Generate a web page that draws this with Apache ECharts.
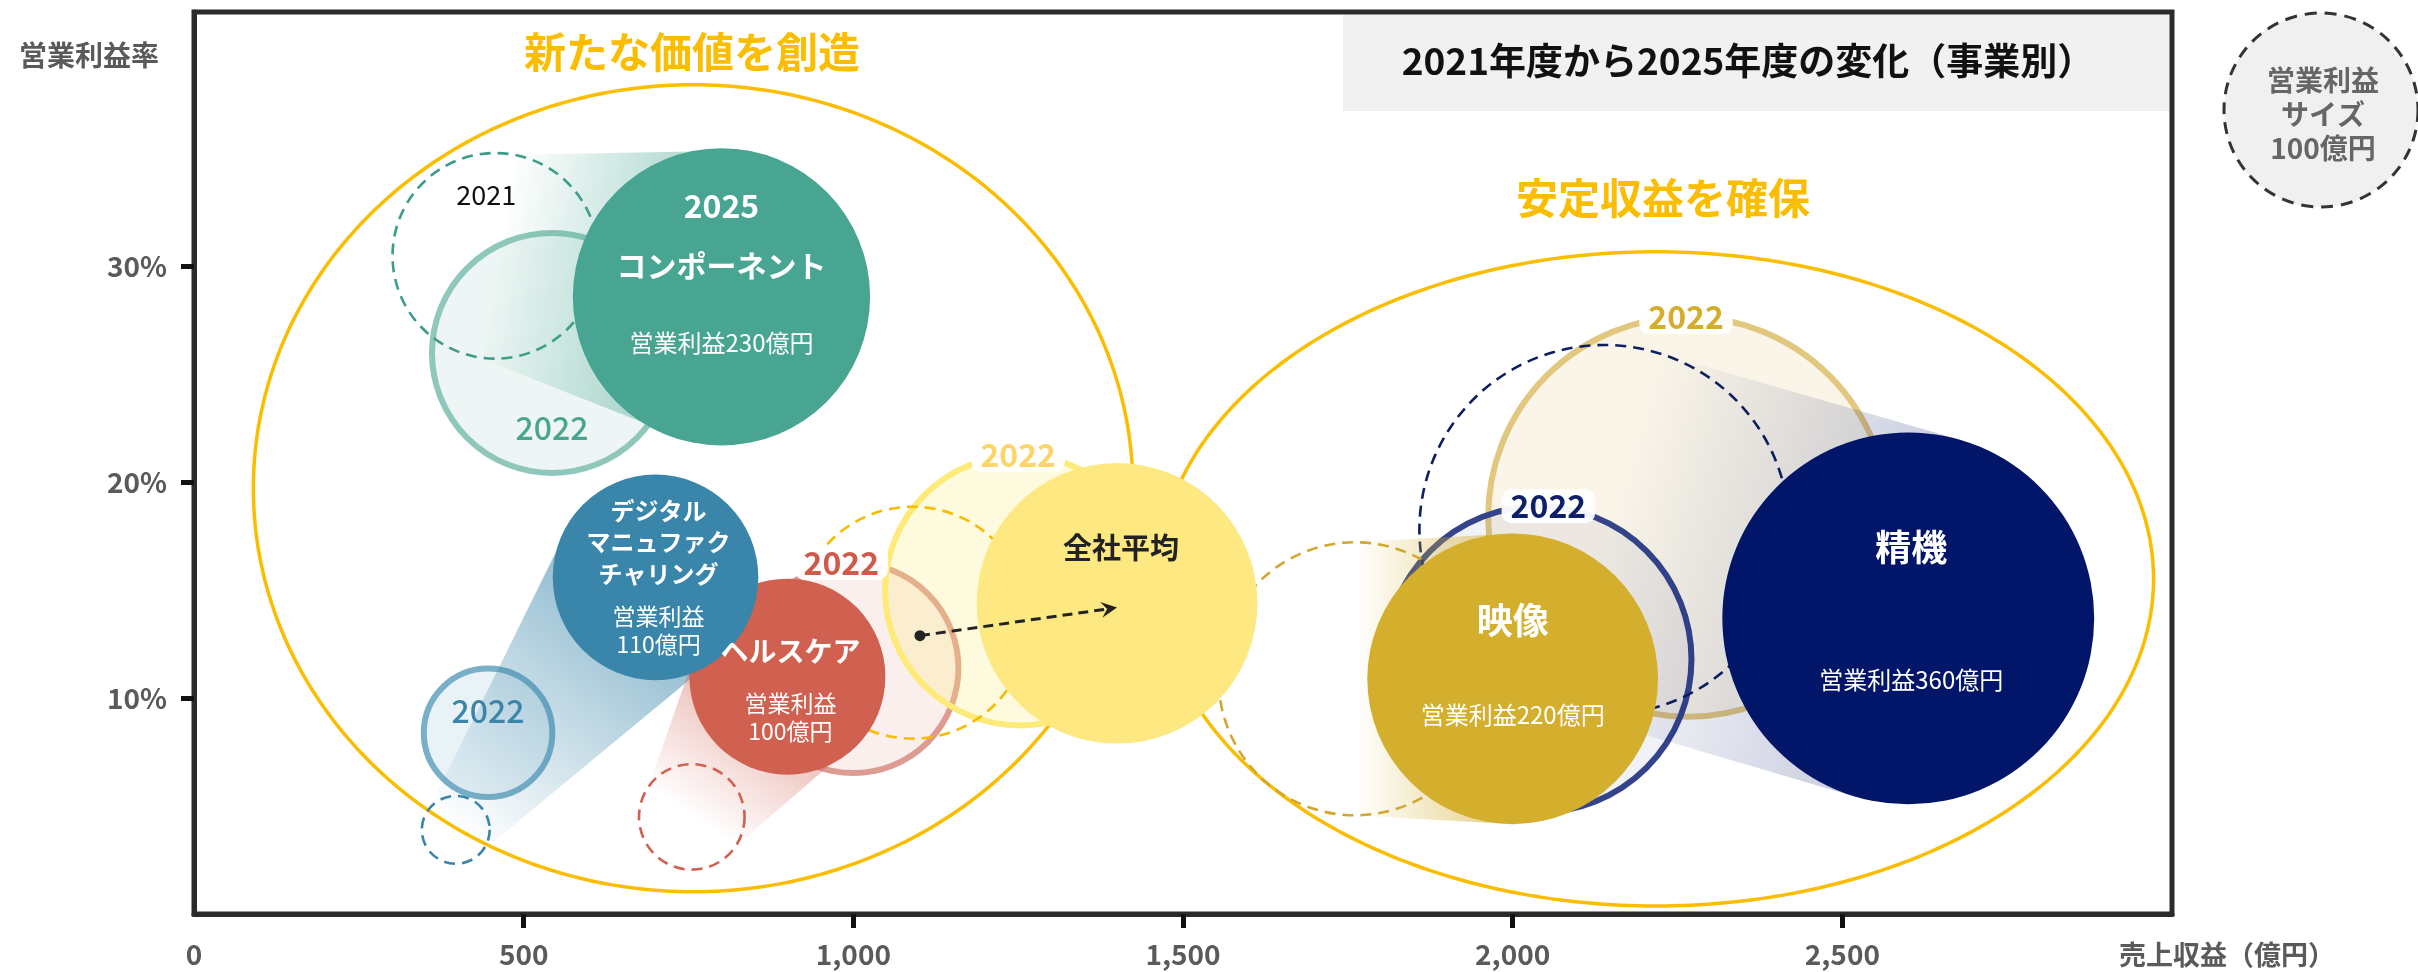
<!DOCTYPE html>
<html><head><meta charset="utf-8">
<script src="https://cdn.jsdelivr.net/npm/echarts@6/dist/echarts.min.js"></script>
<style>html,body{margin:0;padding:0;background:#fff}#c{width:2418px;height:972px}</style>
</head><body><div id="c"></div>
<script>
// ---- data ----
const businesses = ['コンポーネント', 'デジタルマニュファクチャリング', 'ヘルスケア', '全社平均', '映像', '精機'];
const nameLabels = ['コンポーネント', 'デジタル\nマニュファク\nチャリング', 'ヘルスケア', '全社平均', '映像', '精機'];
// 売上収益（億円） / 営業利益率（%） / 営業利益（億円, bubble size）
const sales2021  = [457, 397, 755, 1090, 1761, 2139];
const margin2021 = [30.5, 3.9, 4.5, 13.5, 10.9, 17.8];
const profit2021 = [110, 12, 29, 140, 194, 356];
const sales2022  = [543, 446, 1000, 1253, 2266, 2039];
const margin2022 = [26.0, 8.4, 11.4, 15.0, 18.4, 11.8];
const profit2022 = [150, 43, 115, 190, 416, 244];
const sales2025  = [800, 700, 900, 1400, 2000, 2600];
const margin2025 = [28.6, 15.6, 11.0, 14.4, 10.9, 13.7];
const profit2025 = [230, 110, 100, 205, 220, 360];
const showProfit = [true, true, true, false, true, true];
const bandBusinesses = [0, 1, 2, 4, 5];
const arrowFrom = [1101, 12.9];
const arrowTo = [1400, 14.2];
// group ellipses: centre (sales, margin) and half-axes
const groupNames = ['新たな価値を創造', '安定収益を確保'];
const groupCx = [757, 2217];
const groupCy = [19.73, 15.53];
const groupRx = [667, 755];
const groupRy = [18.7, 15.16];
const xLabelValues = [0, 500, 1000, 1500, 2000, 2500];
const xTickValues = [500, 1000, 1500, 2000, 2500];
const yTickValues = [10, 20, 30];
const legendLines = ['営業利益', 'サイズ', '100億円'];

// ---- styles ----
const FONT = '"Noto Sans CJK JP","Noto Sans",sans-serif';
const R100 = 98; // px radius of a 100億円 bubble
const radius = p => R100 * Math.sqrt(p / 100);
const GROUP_COLOR = '#fbbd00';
const ST = [
  {main:'#48a591', ring:'#8fc8bb', ringFill:'rgba(143,200,187,0.16)', dash:'#3d9c89', lab:'#4aa590', band:[72,165,145,0.55], labPos:'in', labDy:0.62, labDx:0},
  {main:'#3a86aa', ring:'#79afc8', ringFill:'rgba(121,175,200,0.16)', dash:'#3a86aa', lab:'#3a85a8', band:[58,134,170,0.62], labPos:'in', labDy:-0.34, labDx:0},
  {main:'#d06050', ring:'#dd9b92', ringFill:'rgba(221,155,146,0.16)', dash:'#d06050', lab:'#cf5a4b', band:[208,96,80,0.55], labPos:'top', labDx:-12},
  {main:'#fee882', ring:'#fdea78', ringFill:'rgba(253,234,120,0.25)', dash:'#f5bc00', lab:'#fcd46a', band:null, labPos:'top', labDx:-2},
  {main:'#d4af2e', ring:'#e2c77f', ringFill:'rgba(226,199,127,0.18)', dash:'#d1a82c', lab:'#d4ac2e', band:[212,175,46,0.6], labPos:'top', labDx:-2},
  {main:'#011668', ring:'#33448b', ringFill:'rgba(51,68,139,0.07)', dash:'#0d1f5e', lab:'#0d1f66', band:[1,22,104,0.22], labPos:'top', labDx:10}
];
// text layout inside 2025 bubbles (px offsets from centre)
const TXT = [
  {yearDy:-91, nameDy:-31, nameFs:30, nameLh:34, nameColor:'#fff', profDy:46, profFs:24, dx:0},
  {nameDy:-35, nameFs:24, nameLh:31.5, nameColor:'#fff', profDy:53, profFs:23, profBreak:true, dx:3},
  {nameDy:-25, nameFs:28, nameLh:32, nameColor:'#fff', profDy:41, profFs:23, profBreak:true, dx:3},
  {nameDy:-55, nameFs:29, nameLh:32, nameColor:'#222', dx:4},
  {nameDy:-58, nameFs:36, nameLh:40, nameColor:'#fff', profDy:36, profFs:24, dx:0},
  {nameDy:-71, nameFs:36, nameLh:40, nameColor:'#fff', profDy:62, profFs:24, dx:3}
];
const order2025 = [2, 1, 0, 3, 4, 5];

function txt(x, y, text, fs, color, weight, extra) {
  return {type:'text', style: Object.assign({
    text, x, y, fill: color, fontSize: fs, fontFamily: FONT, fontWeight: weight || 'normal',
    align:'center', verticalAlign:'middle', textAlign:'center', textVerticalAlign:'middle'
  }, extra || {})};
}
const idxData = arr => arr.map(i => [sales2025[i], margin2025[i], i]);

const chart = echarts.init(document.getElementById('c'));
const series = [];

// group ellipses
series.push({type:'custom', z:1, silent:true, clip:false, encode:{x:0, y:1},
  data: groupCx.map((v, i) => [v, groupCy[i], i]),
  renderItem(params, api) {
    const i = api.value(2);
    const c = api.coord([groupCx[i], groupCy[i]]);
    const rx = api.size([groupRx[i], 0])[0];
    const ry = api.size([0, groupRy[i]])[1];
    const pts = [];
    for (let k = 0; k < 360; k++) { const a = k / 360 * Math.PI * 2; pts.push([c[0] + rx * Math.cos(a), c[1] + ry * Math.sin(a)]); }
    return {type:'polygon', shape:{points:pts}, style:{fill:'none', stroke:GROUP_COLOR, lineWidth:3.5}};
  }
});
// 2022 rings
series.push({type:'custom', z:2, silent:true, clip:false, encode:{x:0, y:1},
  data: businesses.map((b, i) => [sales2022[i], margin2022[i], i]),
  renderItem(params, api) {
    const i = api.value(2);
    const c = api.coord([sales2022[i], margin2022[i]]);
    return {type:'circle', shape:{cx:c[0], cy:c[1], r:radius(profit2022[i])},
      style:{fill:ST[i].ringFill, stroke:ST[i].ring, lineWidth:6}};
  }
});
// 2021 dashed circles
series.push({type:'custom', z:3, silent:true, clip:false, encode:{x:0, y:1},
  data: businesses.map((b, i) => [sales2021[i], margin2021[i], i]),
  renderItem(params, api) {
    const i = api.value(2);
    const c = api.coord([sales2021[i], margin2021[i]]);
    return {type:'circle', shape:{cx:c[0], cy:c[1], r:radius(profit2021[i])},
      style:{fill:'none', stroke:ST[i].dash, lineWidth:2.6, lineDash:[11, 7]}};
  }
});
// movement bands 2021 -> 2025
series.push({type:'custom', z:4, silent:true, clip:false, encode:{x:0, y:1},
  data: idxData(bandBusinesses),
  renderItem(params, api) {
    const i = api.value(2);
    const o = api.coord([sales2021[i], margin2021[i]]);
    const n = api.coord([sales2025[i], margin2025[i]]);
    const ro = radius(profit2021[i]), rn = radius(profit2025[i]);
    const dx = n[0] - o[0], dy = n[1] - o[1], L = Math.hypot(dx, dy);
    const px = -dy / L, py = dx / L;
    const pts = [[o[0] + px * ro, o[1] + py * ro], [n[0] + px * rn, n[1] + py * rn],
                 [n[0] - px * rn, n[1] - py * rn], [o[0] - px * ro, o[1] - py * ro]];
    const b = ST[i].band;
    return {type:'polygon', shape:{points:pts}, style:{fill:{type:'linear', x:o[0], y:o[1], x2:n[0], y2:n[1], global:true,
      colorStops:[{offset:0, color:`rgba(${b[0]},${b[1]},${b[2]},0)`}, {offset:1, color:`rgba(${b[0]},${b[1]},${b[2]},${b[3]})`}]}}};
  }
});
// 2025 bubbles
series.push({type:'custom', z:5, silent:true, clip:false, encode:{x:0, y:1},
  data: idxData(order2025),
  renderItem(params, api) {
    const i = api.value(2);
    const c = api.coord([sales2025[i], margin2025[i]]);
    return {type:'circle', shape:{cx:c[0], cy:c[1], r:radius(profit2025[i])}, style:{fill:ST[i].main}};
  }
});
// labels
series.push({type:'custom', z:6, silent:true, clip:false, encode:{x:0, y:1},
  data: idxData(order2025),
  renderItem(params, api) {
    const i = api.value(2);
    const els = [];
    const c = api.coord([sales2025[i], margin2025[i]]);
    const t = TXT[i];
    const x = c[0] + t.dx;
    if (t.yearDy !== undefined) els.push(txt(x, c[1] + t.yearDy, '2025', 32, '#fff', 'bold'));
    els.push(txt(x, c[1] + t.nameDy, nameLabels[i], t.nameFs, t.nameColor, 'bold', {lineHeight:t.nameLh}));
    if (showProfit[i]) {
      const pt = t.profBreak ? '営業利益\n' + profit2025[i] + '億円' : '営業利益' + profit2025[i] + '億円';
      els.push(txt(x, c[1] + t.profDy, pt, t.profFs, '#fff', 'normal', {lineHeight:28}));
    }
    const c2 = api.coord([sales2022[i], margin2022[i]]);
    const r2 = radius(profit2022[i]);
    const s = ST[i];
    if (s.labPos === 'top') {
      els.push(txt(c2[0] + s.labDx, c2[1] - r2, '2022', 32, s.lab, 'bold',
        {backgroundColor:'rgba(255,255,255,0.95)', padding:[1, 9, 1, 9], borderRadius:10}));
    } else {
      els.push(txt(c2[0] + s.labDx, c2[1] + s.labDy * r2, '2022', 32, s.lab, 500));
    }
    if (i === 0) {
      const c1 = api.coord([sales2021[i], margin2021[i]]);
      els.push(txt(c1[0] - 9, c1[1] - 0.59 * radius(profit2021[i]), '2021', 27, '#111', 'normal'));
    }
    return {type:'group', children:els};
  }
});
// arrow for company average
series.push({type:'custom', z:7, silent:true, clip:false, encode:{x:0, y:1},
  data: [[arrowFrom[0], arrowFrom[1], arrowTo[0], arrowTo[1]]],
  renderItem(params, api) {
    const a = api.coord([api.value(0), api.value(1)]);
    const b = api.coord([api.value(2), api.value(3)]);
    const dx = b[0] - a[0], dy = b[1] - a[1], L = Math.hypot(dx, dy);
    const ux = dx / L, uy = dy / L, px = -uy, py = ux;
    const e = [b[0] - ux * 9, b[1] - uy * 9];
    return {type:'group', children:[
      {type:'line', shape:{x1:a[0], y1:a[1], x2:e[0], y2:e[1]}, style:{stroke:'#222', lineWidth:3, lineDash:[10, 6]}},
      {type:'circle', shape:{cx:a[0], cy:a[1], r:5.5}, style:{fill:'#222'}},
      {type:'polygon', shape:{points:[b, [b[0] - ux * 16 + px * 8, b[1] - uy * 16 + py * 8], [b[0] - ux * 10, b[1] - uy * 10], [b[0] - ux * 16 - px * 8, b[1] - uy * 16 - py * 8]]}, style:{fill:'#222'}}
    ]};
  }
});

const labelStyle = {color:'#5a5a5a', fontSize:28, fontFamily:FONT, fontWeight:'bold'};
chart.setOption({
  animation:false,
  backgroundColor:'#fff',
  grid:{left:194, right:246, top:12, bottom:58, show:true, borderColor:'#2b2b2b', borderWidth:5, outerBoundsMode:'none'},
  xAxis:{type:'value', min:0, max:3000,
    axisLine:{show:true, onZero:false, lineStyle:{color:'#2b2b2b', width:5}},
    axisTick:{show:true, customValues:xTickValues, length:14, lineStyle:{color:'#111', width:5}},
    axisLabel:Object.assign({customValues:xLabelValues, margin:26, formatter:v => Number(v).toLocaleString('en-US')}, labelStyle),
    splitLine:{show:false}},
  yAxis:{type:'value', min:0, max:41.8,
    axisLine:{show:true, onZero:false, lineStyle:{color:'#2b2b2b', width:5}},
    axisTick:{show:true, customValues:yTickValues, length:13, lineStyle:{color:'#111', width:5}},
    axisLabel:Object.assign({customValues:yTickValues, margin:27, formatter:v => v + '%'}, labelStyle),
    splitLine:{show:false}},
  graphic:[
    {type:'rect', z:0, shape:{x:1343, y:15, width:826, height:96}, style:{fill:'#f1f1f1'}},
    Object.assign(txt(1748, 61, '2021年度から2025年度の変化（事業別）', 37, '#111', 'bold'), {z:1}),
    Object.assign(txt(692, 52, groupNames[0], 42, GROUP_COLOR, 'bold'), {z:1}),
    Object.assign(txt(1663, 198, groupNames[1], 42, GROUP_COLOR, 'bold'), {z:1}),
    Object.assign(txt(89, 55, '営業利益率', 28, '#5a5a5a', 'bold'), {z:1}),
    Object.assign(txt(2227, 955, '売上収益（億円）', 27, '#5a5a5a', 'bold'), {z:1}),
    {type:'circle', z:1, shape:{cx:2321, cy:110, r:97}, style:{fill:'#f0f0f0', stroke:'#333', lineWidth:3, lineDash:[12, 8]}},
    Object.assign(txt(2323, 114, legendLines.join('\n'), 28, '#666', 'bold', {lineHeight:34}), {z:2})
  ],
  series
});
</script></body></html>
